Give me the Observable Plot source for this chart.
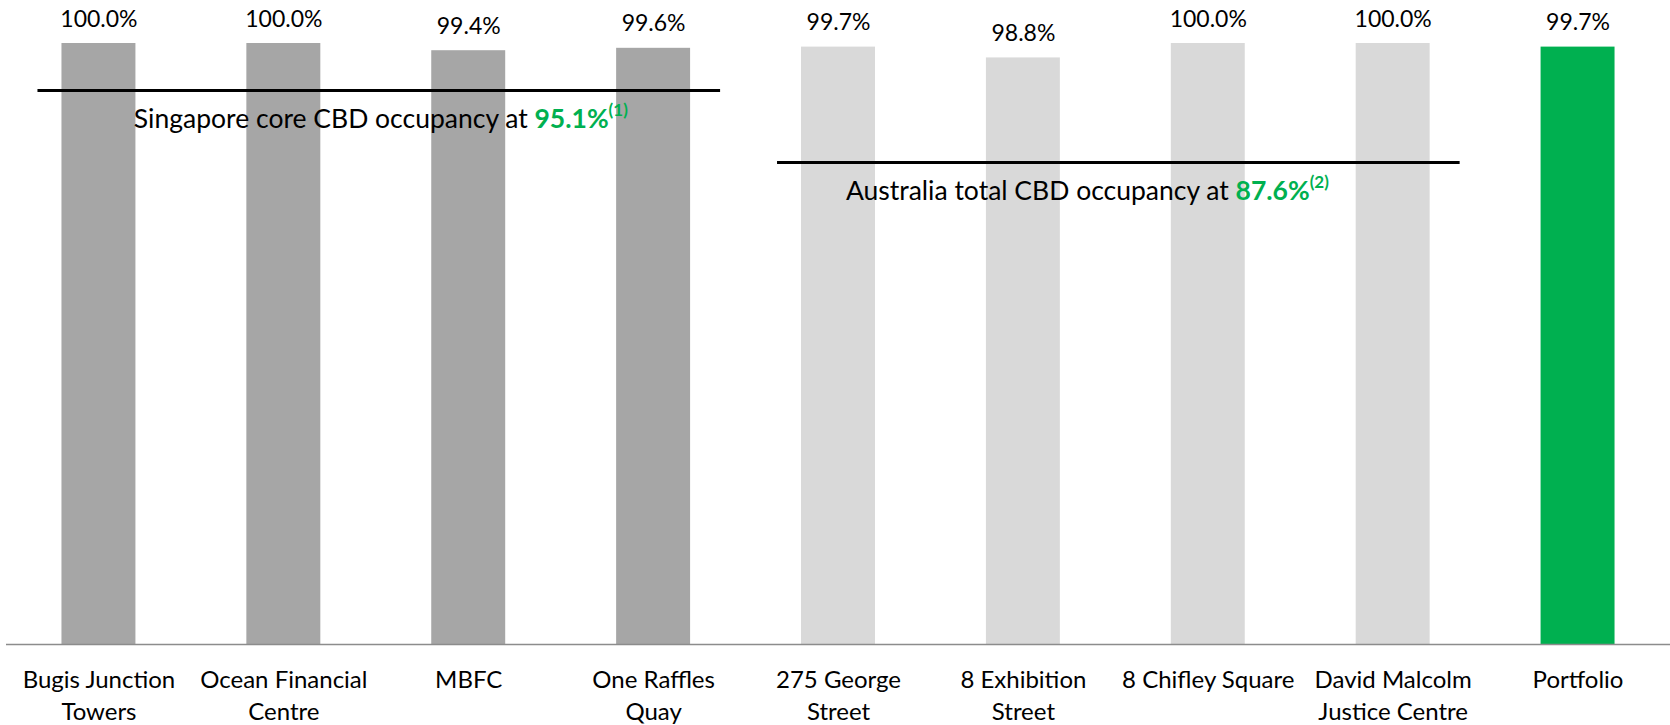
<!DOCTYPE html>
<html>
<head>
<meta charset="utf-8">
<script src="https://cdn.jsdelivr.net/npm/d3@7"></script>
<script src="https://cdn.jsdelivr.net/npm/@observablehq/plot@0.6"></script>
<style>
  html, body { margin: 0; padding: 0; background: #fff; }
  #chart { width: 1670px; height: 725px; }
</style>
</head>
<body>
<div id="chart"></div>
<script>
// ---- data ----
const categories = [
  "Bugis Junction\nTowers",
  "Ocean Financial\nCentre",
  "MBFC",
  "One Raffles\nQuay",
  "275 George\nStreet",
  "8 Exhibition\nStreet",
  "8 Chifley Square",
  "David Malcolm\nJustice Centre",
  "Portfolio"
];
const occupancy = [1.000, 1.000, 0.994, 0.996, 0.997, 0.988, 1.000, 1.000, 0.997];
const groups = ["Singapore", "Singapore", "Singapore", "Singapore",
                "Australia", "Australia", "Australia", "Australia", "Portfolio"];
const groupNames = ["Singapore", "Australia", "Portfolio"];
const groupColors = ["#A6A6A6", "#D9D9D9", "#00B050"];

// benchmark annotations (the source draws the lines at a fixed, not-to-scale level)
const benchmarkText = ["Singapore core CBD occupancy at ", "Australia total CBD occupancy at "];
const benchmarkValue = ["95.1%", "87.6%"];
const benchmarkNote = ["(1)", "(2)"];
const benchmarkFrom = ["Bugis Junction\nTowers", "275 George\nStreet"];
const benchmarkTo = ["One Raffles\nQuay", "David Malcolm\nJustice Centre"];
const benchmarkLevel = [0.961, 0.901];

const yMin = 0.5;

// ---- tables ----
const bars = categories.map((c, i) => ({cat: c, value: occupancy[i], group: groups[i]}));
const bench = benchmarkText.map((t, i) => ({
  text: t, value: benchmarkValue[i], note: benchmarkNote[i],
  from: benchmarkFrom[i], to: benchmarkTo[i], level: benchmarkLevel[i]
}));

const fmt = d3.format(".1%");

const chart = Plot.plot({
  width: 1670,
  height: 725,
  marginLeft: 6,
  marginRight: 0,
  marginTop: 43,
  marginBottom: 81,
  style: {fontFamily: "Lato, 'Open Sans', sans-serif", color: "#000", background: "#fff", overflow: "visible"},
  x: {domain: categories, paddingInner: 0.6, paddingOuter: 0.3, round: false, axis: null},
  y: {domain: [yMin, 1.0], axis: null},
  color: {domain: groupNames, range: groupColors},
  marks: [
    Plot.barY(bars, {x: "cat", y1: yMin, y2: "value", fill: "group"}),
    Plot.text(bars, {x: "cat", y: "value", text: d => fmt(d.value), lineAnchor: "bottom", dy: -17, fontSize: 23, fill: "#000"}),
    Plot.ruleY([yMin], {stroke: "#8C8C8C", strokeWidth: 1.5}),
    Plot.axisX({tickSize: 0, tickPadding: 21, fontSize: 24, lineHeight: 1.33, label: null, fill: "#000"}),
    Plot.ruleY(bench, {x1: "from", x2: "to", y: "level", stroke: "#000", strokeWidth: 3, insetLeft: -24, insetRight: -30}),
    Plot.text([bench[0]], {x: d => categories[1], y: "level", text: "text", textAnchor: "middle", lineAnchor: "bottom", dx: 97, dy: 38, fontSize: 26.5, fill: "#000"}),
    Plot.text([bench[1]], {x: d => categories[5], y: "level", text: "text", textAnchor: "middle", lineAnchor: "bottom", dx: 64, dy: 38, fontSize: 26.5, fill: "#000"})
  ]
});

// add the bold green value and the superscript note to each benchmark label
d3.select(chart).selectAll("text").each(function () {
  const idx = benchmarkText.indexOf(this.textContent);
  if (idx < 0) return;
  const t = d3.select(this);
  t.append("tspan").attr("font-weight", "bold").attr("fill", "#00B050").text(benchmarkValue[idx]);
  t.append("tspan").attr("font-weight", "bold").attr("fill", "#00B050")
    .attr("font-size", 17).attr("dy", -12).text(benchmarkNote[idx]);
});

document.getElementById("chart").appendChild(chart);
</script>
</body>
</html>
